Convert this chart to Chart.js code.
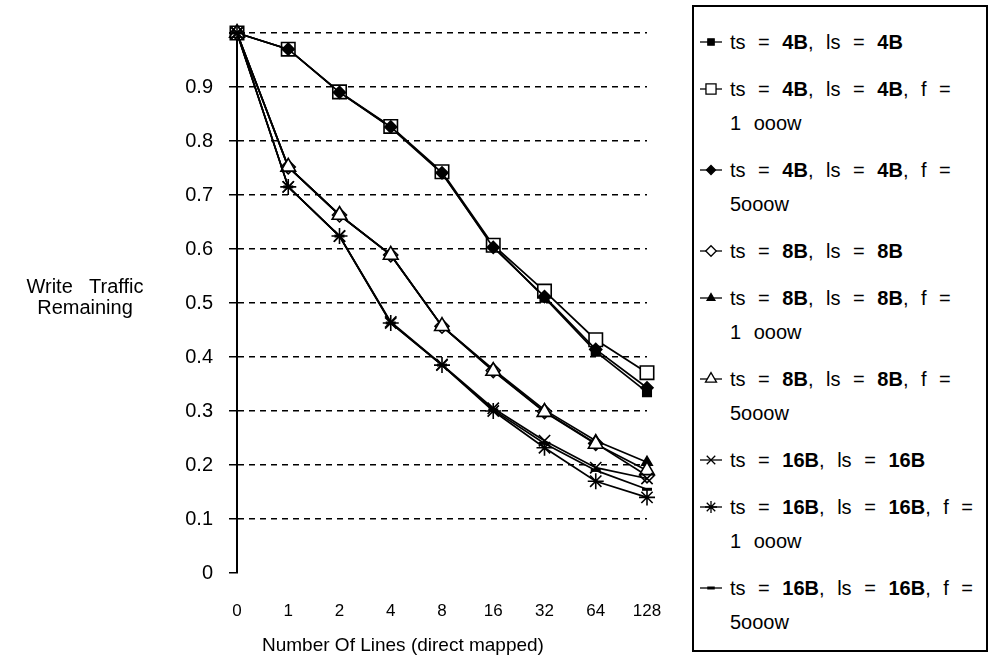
<!DOCTYPE html>
<html>
<head>
<meta charset="utf-8">
<script src="https://cdn.jsdelivr.net/npm/chart.js@4.4.1/dist/chart.umd.min.js"></script>
<style>
  body { margin: 0; background: #fff; font-family: "Liberation Sans", Arial, sans-serif; color: #000; }
  #wrap { position: relative; width: 993px; height: 659px; overflow: hidden; }
  #chartBox { position: absolute; left: 0; top: 0; width: 690px; height: 659px; }
  #yTitle { position: absolute; left: 0; width: 170px; top: 276px; text-align: center; font-size: 20px; line-height: 21px; white-space: pre; }
  #xTitle { position: absolute; left: 262px; top: 634px; font-size: 19px; white-space: nowrap; }
  #legend { position: absolute; left: 692px; top: 5px; width: 296px; height: 647px; border: 2px solid #000; box-sizing: border-box; padding-top: 18px; }
  .item { position: relative; padding-left: 36px; margin-bottom: 13px; font-size: 20px; line-height: 34px; word-spacing: 7px; white-space: nowrap; }
  .item b { font-weight: 600; }
  .item canvas { position: absolute; left: 6px; top: 8px; }
</style>
</head>
<body>
<div id="wrap">
  <div id="chartBox"><canvas id="trafficChart"></canvas></div>
  <div id="yTitle">Write   Traffic
Remaining</div>
  <div id="xTitle">Number Of Lines (direct mapped)</div>
  <div id="legend"></div>
</div>
<script>
// x categories: number of lines
const lineCounts = ['0', '1', '2', '4', '8', '16', '32', '64', '128'];

// y axis ticks shown
const yTicks = [0, 0.1, 0.2, 0.3, 0.4, 0.5, 0.6, 0.7, 0.8, 0.9, 1];

// write traffic remaining
const ts4ls4 = [1, 0.97, 0.89, 0.825, 0.74, 0.605, 0.51, 0.41, 0.335];
const ts4ls4f1000 = [1, 0.97, 0.891, 0.827, 0.743, 0.607, 0.522, 0.432, 0.371];
const ts4ls4f5000 = [1, 0.97, 0.89, 0.826, 0.741, 0.603, 0.512, 0.414, 0.343];
const ts8ls8 = [1, 0.752, 0.663, 0.589, 0.457, 0.375, 0.299, 0.24, 0.18];
const ts8ls8f1000 = [1, 0.752, 0.663, 0.589, 0.457, 0.377, 0.302, 0.245, 0.205];
const ts8ls8f5000 = [1, 0.752, 0.663, 0.589, 0.457, 0.374, 0.298, 0.239, 0.19];
const ts16ls16 = [1, 0.715, 0.624, 0.465, 0.386, 0.305, 0.245, 0.195, 0.175];
const ts16ls16f1000 = [1, 0.715, 0.624, 0.463, 0.385, 0.3, 0.232, 0.17, 0.14];
const ts16ls16f5000 = [1, 0.715, 0.624, 0.463, 0.385, 0.302, 0.24, 0.19, 0.155];

const seriesLabels = [
    ['ts = 4B, ls = 4B'],
    ['ts = 4B, ls = 4B, f =', '1 ooow'],
    ['ts = 4B, ls = 4B, f =', '5ooow'],
    ['ts = 8B, ls = 8B'],
    ['ts = 8B, ls = 8B, f =', '1 ooow'],
    ['ts = 8B, ls = 8B, f =', '5ooow'],
    ['ts = 16B, ls = 16B'],
    ['ts = 16B, ls = 16B, f =', '1 ooow'],
    ['ts = 16B, ls = 16B, f =', '5ooow']
];

const seriesData = [ts4ls4, ts4ls4f1000, ts4ls4f5000, ts8ls8, ts8ls8f1000, ts8ls8f5000, ts16ls16, ts16ls16f1000, ts16ls16f5000];

// marker look per series
const markers = [
    { pointStyle: 'rect', radius: 6, fill: '#000' },
    { pointStyle: 'rect', radius: 9.5, fill: '#fff' },
    { pointStyle: 'rectRot', radius: 6, fill: '#000' },
    { pointStyle: 'rectRot', radius: 7, fill: '#fff' },
    { pointStyle: 'triangle', radius: 6, fill: '#000' },
    { pointStyle: 'triangle', radius: 8.5, fill: '#fff' },
    { pointStyle: 'crossRot', radius: 8, fill: '#000' },
    { pointStyle: 'star', radius: 8, fill: '#000' },
    { pointStyle: 'line', radius: 5, fill: '#000' }
];

const datasets = seriesData.map((values, i) => ({
    label: seriesLabels[i].join(' '),
    data: values,
    borderColor: '#000',
    backgroundColor: markers[i].fill,
    borderWidth: 1.7,
    pointStyle: markers[i].pointStyle,
    pointRadius: markers[i].radius,
    pointHoverRadius: markers[i].radius,
    pointBorderColor: '#000',
    pointBackgroundColor: markers[i].fill,
    pointBorderWidth: i === 8 ? 3 : 1.6,
    tension: 0,
    fill: false,
    order: 9 - i
}));

const ctx = document.getElementById('trafficChart').getContext('2d');
const trafficChart = new Chart(ctx, {
    type: 'line',
    data: {
        labels: lineCounts,
        datasets: datasets
    },
    options: {
        responsive: true,
        maintainAspectRatio: false,
        animation: false,
        layout: { padding: { top: 33, right: 43, left: 0, bottom: 0 } },
        plugins: {
            legend: { display: false },
            tooltip: { enabled: false }
        },
        clip: false,
        scales: {
            x: {
                type: 'category',
                offset: false,
                grid: { display: false, drawTicks: false },
                border: { display: false },
                ticks: {
                    color: '#000',
                    font: { family: '"Liberation Sans", Arial, sans-serif', size: 17 },
                    padding: 28,
                    maxRotation: 0,
                    autoSkip: false
                },
                afterFit: scale => { scale.height = 86; }
            },
            y: {
                min: 0,
                max: 1,
                afterBuildTicks: scale => { scale.ticks = yTicks.map(v => ({ value: v })); },
                grid: {
                    color: c => (c.tick && c.tick.value === 0) ? 'rgba(0,0,0,0)' : '#000',
                    lineWidth: 1.5,
                    tickColor: '#000',
                    tickWidth: 1.5,
                    tickLength: 8
                },
                border: { display: true, color: '#000', width: 2, dash: [6, 5] },
                ticks: {
                    color: '#000',
                    font: { family: '"Liberation Sans", Arial, sans-serif', size: 20 },
                    padding: 16,
                    callback: v => v === 1 ? '' : String(v)
                },
                afterFit: scale => { scale.width = 237; }
            }
        }
    }
});

// HTML legend with the same markers
function buildLegend() {
    const box = document.getElementById('legend');
    box.innerHTML = '';
    seriesLabels.forEach((lines, i) => {
        const item = document.createElement('div');
        item.className = 'item';
        const c = document.createElement('canvas');
        c.width = 22; c.height = 18;
        item.appendChild(c);
        const text = document.createElement('div');
        text.innerHTML = lines.map(l => l.replace(/(\d+B)/g, '<b>$1</b>')).join('<br>');
        item.appendChild(text);
        box.appendChild(item);

        const g = c.getContext('2d');
        g.strokeStyle = '#000';
        g.lineWidth = 1.3;
        g.beginPath();
        g.moveTo(0, 9); g.lineTo(22, 9);
        g.stroke();
        g.fillStyle = markers[i].fill;
        g.lineWidth = i === 8 ? 3 : 1.3;
        Chart.helpers.drawPoint(g, {
            pointStyle: markers[i].pointStyle,
            radius: markers[i].radius * 0.75,
            rotation: 0,
            borderWidth: g.lineWidth
        }, 11, 9);
    });
}
buildLegend();
</script>
</body>
</html>
